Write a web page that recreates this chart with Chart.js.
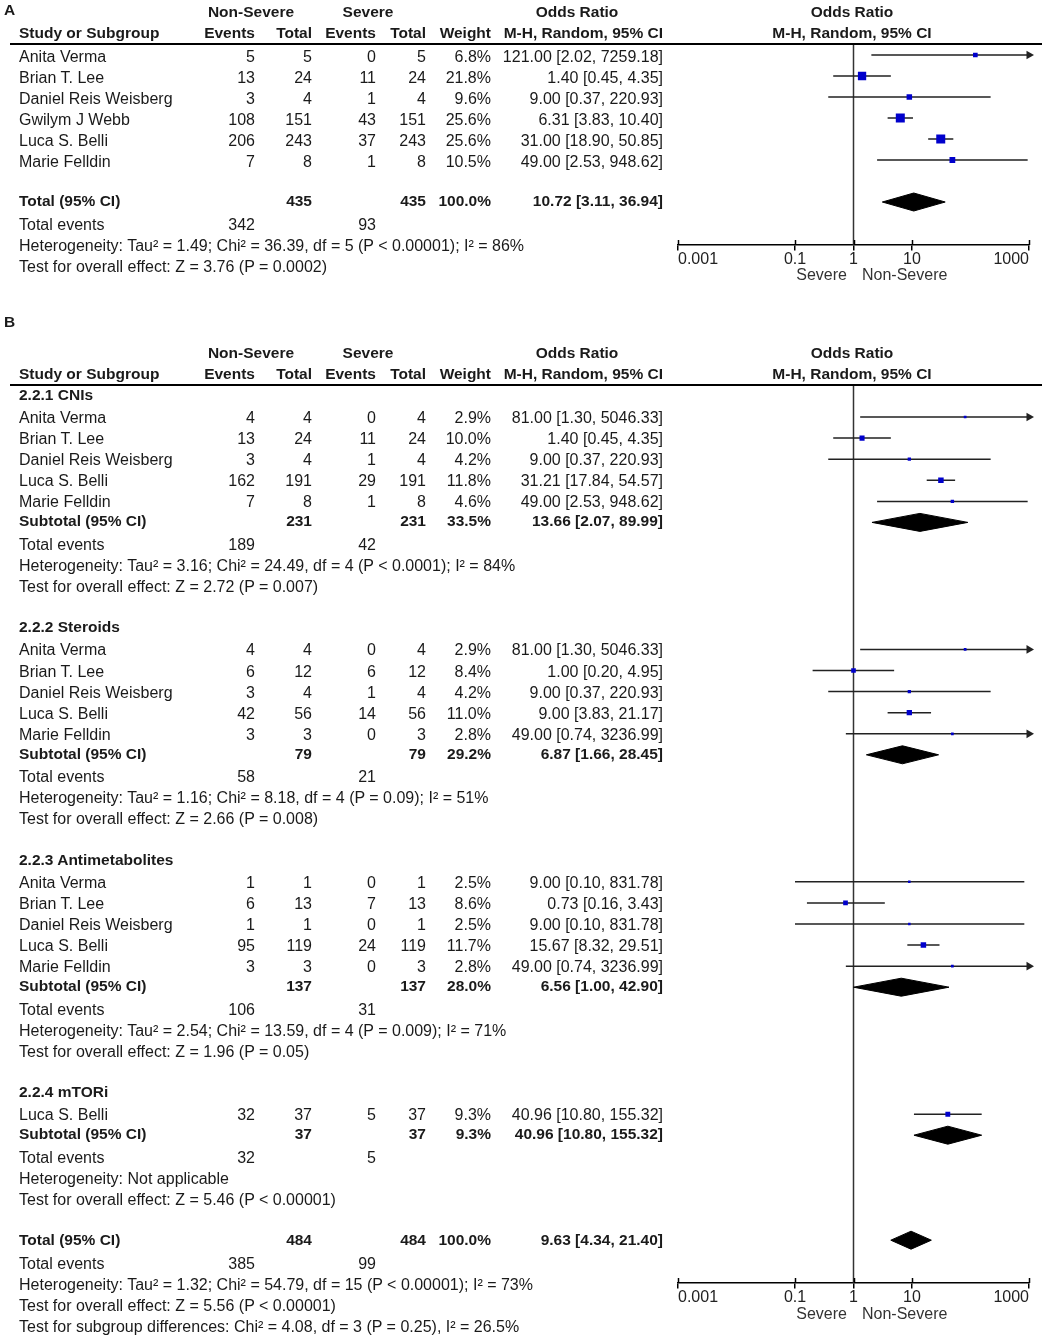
<!DOCTYPE html>
<html>
<head>
<meta charset="utf-8">
<script src="https://cdn.jsdelivr.net/npm/chart.js@4.4.0/dist/chart.umd.min.js"></script>
<style>
html, body { margin: 0; padding: 0; background: #fff; }
#page { position: relative; width: 1049px; height: 1339px; overflow: hidden; }
#plot { position: absolute; left: 0; top: 0; }
.t { position: absolute; white-space: nowrap; font: 16px "Liberation Sans", Arial, sans-serif; line-height: 18px; color: #1a1a1a; }
.b { font-weight: bold; font-size: 15.5px; }
.g { color: #333; }
.rule { position: absolute; left: 10px; width: 1032px; height: 0; border-top: 2px solid #000; }
</style>
</head>
<body>
<div id="page"><canvas id="plot" width="1049" height="1339"></canvas></div>
<script>
// Panel A
const studiesA = ["Anita Verma", "Brian T. Lee", "Daniel Reis Weisberg", "Gwilym J Webb", "Luca S. Belli", "Marie Felldin"];
const nsEventsA = [5, 13, 3, 108, 206, 7];
const nsTotalA = [5, 24, 4, 151, 243, 8];
const sEventsA = [0, 11, 1, 43, 37, 1];
const sTotalA = [5, 24, 4, 151, 243, 8];
const weightA = [6.8, 21.8, 9.6, 25.6, 25.6, 10.5];
const orA = [121.00, 1.40, 9.00, 6.31, 31.00, 49.00];
const lowA = [2.02, 0.45, 0.37, 3.83, 18.90, 2.53];
const highA = [7259.18, 4.35, 220.93, 10.40, 50.85, 948.62];
const totalA = [435, 435, 100.0];
const pooledA = [10.72, 3.11, 36.94];
const eventsA = [342, 93];
const hetA = "Heterogeneity: Tau² = 1.49; Chi² = 36.39, df = 5 (P < 0.00001); I² = 86%";
const testA = "Test for overall effect: Z = 3.76 (P = 0.0002)";

// Panel B (subgrupos)
const groupNames = ["2.2.1 CNIs", "2.2.2 Steroids", "2.2.3 Antimetabolites", "2.2.4 mTORi"];
const groupStudies = [
  ["Anita Verma", "Brian T. Lee", "Daniel Reis Weisberg", "Luca S. Belli", "Marie Felldin"],
  ["Anita Verma", "Brian T. Lee", "Daniel Reis Weisberg", "Luca S. Belli", "Marie Felldin"],
  ["Anita Verma", "Brian T. Lee", "Daniel Reis Weisberg", "Luca S. Belli", "Marie Felldin"],
  ["Luca S. Belli"]
];
const groupNsEvents = [[4, 13, 3, 162, 7], [4, 6, 3, 42, 3], [1, 6, 1, 95, 3], [32]];
const groupNsTotal = [[4, 24, 4, 191, 8], [4, 12, 4, 56, 3], [1, 13, 1, 119, 3], [37]];
const groupSEvents = [[0, 11, 1, 29, 1], [0, 6, 1, 14, 0], [0, 7, 0, 24, 0], [5]];
const groupSTotal = [[4, 24, 4, 191, 8], [4, 12, 4, 56, 3], [1, 13, 1, 119, 3], [37]];
const groupWeight = [[2.9, 10.0, 4.2, 11.8, 4.6], [2.9, 8.4, 4.2, 11.0, 2.8], [2.5, 8.6, 2.5, 11.7, 2.8], [9.3]];
const groupOR = [[81.00, 1.40, 9.00, 31.21, 49.00], [81.00, 1.00, 9.00, 9.00, 49.00], [9.00, 0.73, 9.00, 15.67, 49.00], [40.96]];
const groupLow = [[1.30, 0.45, 0.37, 17.84, 2.53], [1.30, 0.20, 0.37, 3.83, 0.74], [0.10, 0.16, 0.10, 8.32, 0.74], [10.80]];
const groupHigh = [[5046.33, 4.35, 220.93, 54.57, 948.62], [5046.33, 4.95, 220.93, 21.17, 3236.99], [831.78, 3.43, 831.78, 29.51, 3236.99], [155.32]];
const subtotalN = [231, 79, 137, 37];
const subtotalWeight = [33.5, 29.2, 28.0, 9.3];
const subtotalOR = [13.66, 6.87, 6.56, 40.96];
const subtotalLow = [2.07, 1.66, 1.00, 10.80];
const subtotalHigh = [89.99, 28.45, 42.90, 155.32];
const subtotalNsEvents = [189, 58, 106, 32];
const subtotalSEvents = [42, 21, 31, 5];
const groupHet = [
  "Heterogeneity: Tau² = 3.16; Chi² = 24.49, df = 4 (P < 0.0001); I² = 84%",
  "Heterogeneity: Tau² = 1.16; Chi² = 8.18, df = 4 (P = 0.09); I² = 51%",
  "Heterogeneity: Tau² = 2.54; Chi² = 13.59, df = 4 (P = 0.009); I² = 71%",
  "Heterogeneity: Not applicable"
];
const groupTest = [
  "Test for overall effect: Z = 2.72 (P = 0.007)",
  "Test for overall effect: Z = 2.66 (P = 0.008)",
  "Test for overall effect: Z = 1.96 (P = 0.05)",
  "Test for overall effect: Z = 5.46 (P < 0.00001)"
];
const totalB = [484, 484, 100.0];
const pooledB = [9.63, 4.34, 21.40];
const eventsB = [385, 99];
const hetB = "Heterogeneity: Tau² = 1.32; Chi² = 54.79, df = 15 (P < 0.00001); I² = 73%";
const testB = "Test for overall effect: Z = 5.56 (P < 0.00001)";
const subgroupB = "Test for subgroup differences: Chi² = 4.08, df = 3 (P = 0.25), I² = 26.5%";

const tickValues = [0.001, 0.1, 1, 10, 1000];
const X_MIN = 0.001, X_MAX = 1000;

// colunas da tabela (borda direita)
const COLS = [255, 312, 376, 426, 491, 663];
const W = 1049;
const page = document.getElementById("page");

function txt(s, x, y, align, cls) {
  const d = document.createElement("div");
  d.className = "t" + (cls ? " " + cls : "");
  d.textContent = s;
  if (align === "r") d.style.right = (W - x) + "px";
  else if (align === "c") { d.style.left = (x - 150) + "px"; d.style.width = "300px"; d.style.textAlign = "center"; }
  else d.style.left = x + "px";
  d.style.top = (y - 9) + "px";
  page.appendChild(d);
}
function rule(y) {
  const d = document.createElement("div");
  d.className = "rule";
  d.style.top = y + "px";
  page.appendChild(d);
}
const fmtOR = (o, l, h) => `${o.toFixed(2)} [${l.toFixed(2)}, ${h.toFixed(2)}]`;
const fmtW = w => w.toFixed(1) + "%";

function header(y1, y2, lineY) {
  txt("Non-Severe", 251, y1, "c", "b");
  txt("Severe", 368, y1, "c", "b");
  txt("Odds Ratio", 577, y1, "c", "b");
  txt("Odds Ratio", 852, y1, "c", "b");
  txt("Study or Subgroup", 19, y2, "l", "b");
  ["Events", "Total", "Events", "Total", "Weight", "M-H, Random, 95% CI"].forEach((h, i) => txt(h, COLS[i], y2, "r", "b"));
  txt("M-H, Random, 95% CI", 852, y2, "c", "b");
  rule(lineY);
}
function studyRow(name, a, b, c, d, w, o, l, h, y) {
  txt(name, 19, y);
  [a, b, c, d, fmtW(w), fmtOR(o, l, h)].forEach((v, i) => txt(String(v), COLS[i], y, "r"));
}
function totalRow(label, n1, n2, w, o, l, h, y) {
  txt(label, 19, y, "l", "b");
  txt(String(n1), COLS[1], y, "r", "b");
  txt(String(n2), COLS[3], y, "r", "b");
  txt(fmtW(w), COLS[4], y, "r", "b");
  txt(fmtOR(o, l, h), COLS[5], y, "r", "b");
}
function eventsRow(e1, e2, y) {
  txt("Total events", 19, y);
  txt(String(e1), COLS[0], y, "r");
  txt(String(e2), COLS[2], y, "r");
}

// dados do gráfico
const whiskers = [];
const squaresA = [];
const squaresB = [];
const diamonds = [];
const DIAMOND_H = 9;

function addStudy(sq, o, l, h, w, y) {
  whiskers.push({ x: Math.max(l, X_MIN), y: y }, { x: Math.min(h, X_MAX), y: y, arrow: h > X_MAX }, { x: null, y: null });
  sq.push({ x: o, y: y, w: w });
}
function addDiamond(o, l, h, y, axis) {
  diamonds.push({
    xAxisID: axis,
    data: [{ x: l, y: y }, { x: o, y: y - DIAMOND_H }, { x: h, y: y }, { x: o, y: y + DIAMOND_H }, { x: l, y: y }],
    showLine: true, fill: "shape", backgroundColor: "#000", borderColor: "#000", borderWidth: 1,
    pointRadius: 0, order: 1
  });
}

// ---- Painel A ----
txt("A", 4, 10, "l", "b");
header(12, 33, 43);
studiesA.forEach((s, i) => {
  const y = 57 + 21 * i;
  studyRow(s, nsEventsA[i], nsTotalA[i], sEventsA[i], sTotalA[i], weightA[i], orA[i], lowA[i], highA[i], y);
  addStudy(squaresA, orA[i], lowA[i], highA[i], weightA[i], y - 2);
});
totalRow("Total (95% CI)", totalA[0], totalA[1], totalA[2], pooledA[0], pooledA[1], pooledA[2], 201);
addDiamond(pooledA[0], pooledA[1], pooledA[2], 202, "x");
eventsRow(eventsA[0], eventsA[1], 225);
txt(hetA, 19, 246);
txt(testA, 19, 267);
txt("Severe", 847, 275, "r", "g");
txt("Non-Severe", 862, 275, "l", "g");
const whiskEndA = whiskers.length;

// ---- Painel B ----
txt("B", 4, 322, "l", "b");
header(353, 374, 384);
let y = 395;
groupNames.forEach((g, gi) => {
  txt(g, 19, y, "l", "b");
  y += 23;
  let last = y;
  groupStudies[gi].forEach((s, i) => {
    last = y + 21.1 * i;
    studyRow(s, groupNsEvents[gi][i], groupNsTotal[gi][i], groupSEvents[gi][i], groupSTotal[gi][i],
      groupWeight[gi][i], groupOR[gi][i], groupLow[gi][i], groupHigh[gi][i], last);
    addStudy(squaresB, groupOR[gi][i], groupLow[gi][i], groupHigh[gi][i], groupWeight[gi][i], last - 1);
  });
  const sub = last + 19;
  totalRow("Subtotal (95% CI)", subtotalN[gi], subtotalN[gi], subtotalWeight[gi], subtotalOR[gi], subtotalLow[gi], subtotalHigh[gi], sub);
  addDiamond(subtotalOR[gi], subtotalLow[gi], subtotalHigh[gi], sub + 1, "xb");
  eventsRow(subtotalNsEvents[gi], subtotalSEvents[gi], sub + 23.5);
  txt(groupHet[gi], 19, sub + 44.5);
  txt(groupTest[gi], 19, sub + 65.5);
  y = sub + 106;
});
totalRow("Total (95% CI)", totalB[0], totalB[1], totalB[2], pooledB[0], pooledB[1], pooledB[2], y);
addDiamond(pooledB[0], pooledB[1], pooledB[2], y, "xb");
eventsRow(eventsB[0], eventsB[1], y + 24);
txt(hetB, 19, y + 45);
txt(testB, 19, y + 66);
txt(subgroupB, 19, y + 87);
txt("Severe", 847, 1314, "r", "g");
txt("Non-Severe", 862, 1314, "l", "g");

const AXIS_A = 245, AXIS_B = 1283;

function axisCfg(pos) {
  return {
    type: "logarithmic", min: X_MIN, max: X_MAX, position: { y: pos },
    border: { display: true, color: "#000", width: 1.5 },
    grid: { drawOnChartArea: false, drawTicks: true, tickLength: 5, color: "#000", lineWidth: 1.5 },
    ticks: {
      align: "inner", padding: 0, color: "#222", maxRotation: 0, autoSkip: false,
      font: { family: "Liberation Sans", size: 16 },
      callback: v => String(v)
    },
    afterBuildTicks: s => { s.ticks = tickValues.map(v => ({ value: v })); }
  };
}

// marcas de escala para cima do eixo
const tickUp = {
  id: "tickUp",
  afterDraw(chart) {
    const c = chart.ctx;
    c.save();
    c.strokeStyle = "#000";
    c.lineWidth = 1.5;
    [["x", AXIS_A], ["xb", AXIS_B]].forEach(([id, pos]) => {
      const s = chart.scales[id];
      const yp = chart.scales.y.getPixelForValue(pos);
      tickValues.forEach(v => {
        const px = Math.round(s.getPixelForValue(v)) + 0.5;
        c.beginPath();
        c.moveTo(px, yp - 5);
        c.lineTo(px, yp);
        c.stroke();
      });
    });
    c.restore();
  }
};

const sqRadius = (scale, ref) => ctx => {
  const w = ctx.raw ? ctx.raw.w : 0;
  return Math.max(2.4, scale * Math.sqrt(w / ref)) / Math.SQRT2;
};
const whiskerStyle = {
  showLine: true, spanGaps: false, borderColor: "#222", borderWidth: 1.5,
  pointStyle: "triangle", pointRotation: 90, pointBackgroundColor: "#222", pointBorderWidth: 0,
  pointRadius: ctx => (ctx.raw && ctx.raw.arrow ? 5 : 0),
  clip: false, order: 1
};

const chart = new Chart(document.getElementById("plot"), {
  type: "scatter",
  data: {
    datasets: [
      { xAxisID: "x", data: squaresA, pointStyle: "rect", backgroundColor: "#0000cc", borderWidth: 0, pointRadius: sqRadius(9, 25.6), order: 0 },
      { xAxisID: "xb", data: squaresB, pointStyle: "rect", backgroundColor: "#0000cc", borderWidth: 0, pointRadius: sqRadius(5.5, 11.8), order: 0 },
      Object.assign({ xAxisID: "x", data: whiskers.slice(0, whiskEndA) }, whiskerStyle),
      Object.assign({ xAxisID: "xb", data: whiskers.slice(whiskEndA) }, whiskerStyle),
      ...diamonds,
      { xAxisID: "x", data: [{ x: 1, y: 43 }, { x: 1, y: AXIS_A }], showLine: true, borderColor: "#333", borderWidth: 1.5, pointRadius: 0, order: 2 },
      { xAxisID: "xb", data: [{ x: 1, y: 384 }, { x: 1, y: AXIS_B }], showLine: true, borderColor: "#333", borderWidth: 1.5, pointRadius: 0, order: 2 }
    ]
  },
  options: {
    responsive: false,
    animation: false,
    events: [],
    layout: { padding: { left: 678, right: 20, top: 0, bottom: 0 } },
    plugins: { legend: { display: false }, tooltip: { enabled: false } },
    scales: {
      x: axisCfg(AXIS_A),
      xb: Object.assign(axisCfg(AXIS_B), { axis: "x" }),
      y: { type: "linear", min: 0, max: 1339, reverse: true, display: false }
    }
  },
  plugins: [tickUp]
});

// o eixo y deve corresponder aos pixels da página
const area = chart.chartArea;
chart.options.scales.y.min = area.top;
chart.options.scales.y.max = area.bottom;
chart.update();
</script>
</body>
</html>
